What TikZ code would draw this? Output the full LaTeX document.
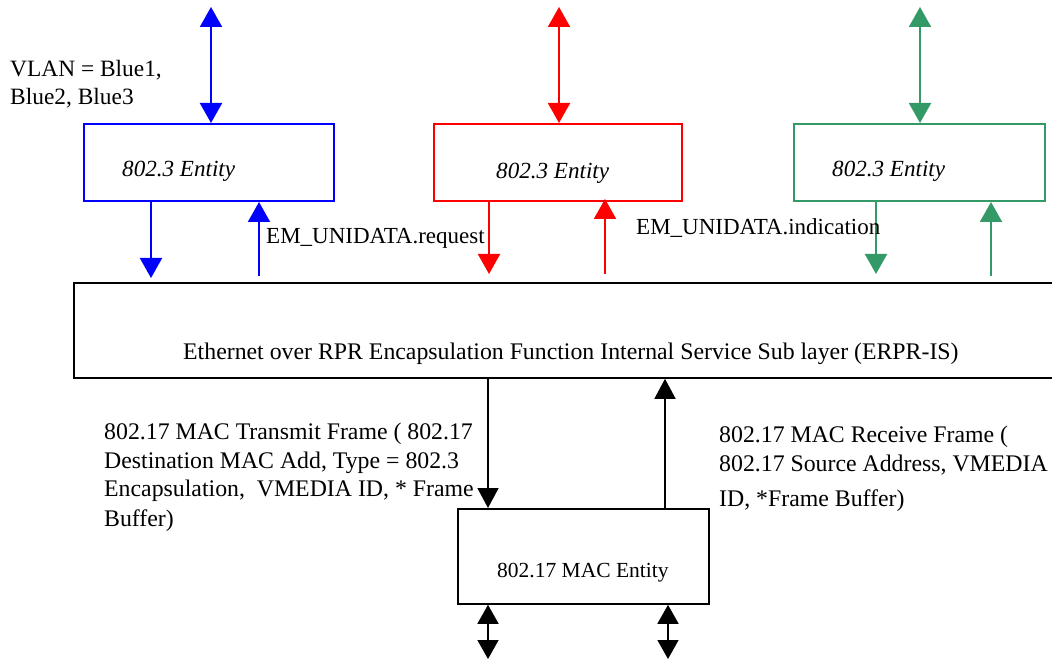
\documentclass[tikz,border=0pt]{standalone}
\usepackage{fontspec}
\setmainfont{Liberation Serif}
\usetikzlibrary{arrows.meta}
\definecolor{eblue}{RGB}{0,0,255}
\definecolor{ered}{RGB}{255,0,0}
\definecolor{egreen}{RGB}{51,153,102}
\begin{document}
\begin{tikzpicture}[x=1pt,y=-1pt,
  txt/.style={inner sep=0pt, font=\fontsize{#1}{28.5}\selectfont},
  txt/.default=23.8,
  etxt/.style={inner sep=0pt, anchor=base west, font=\fontsize{23.1}{28.5}\selectfont\itshape},
  ebox/.style={draw=#1, line width=2pt, inner sep=0pt, anchor=north west},
  cline/.style={draw=#1, line width=2pt, -{Triangle[length=20pt,width=22pt]}},
  cdbl/.style={draw=#1, line width=2pt, {Triangle[length=20pt,width=22pt]}-{Triangle[length=20pt,width=22pt]}},
  kline/.style={draw=black, line width=1.6pt, -{Triangle[length=20pt,width=21pt]}},
  kdbl/.style={draw=black, line width=1.6pt, {Triangle[length=19pt,width=21pt]}-{Triangle[length=19pt,width=21pt]}},
]
\useasboundingbox (0,0) rectangle (1052,660);
\clip (0,0) rectangle (1052,660);

% entity boxes
\node[ebox=eblue, minimum width=250pt, minimum height=77pt] (b1) at (83,123) {};
\node[ebox=ered, minimum width=248pt, minimum height=77pt] (b2) at (433,123) {};
\node[ebox=egreen, minimum width=251pt, minimum height=77pt] (b3) at (793,123) {};
\node[etxt] (b1t) at (122,177) {802.3 Entity};
\node[etxt] (b2t) at (496,179) {802.3 Entity};
\node[etxt] (b3t) at (832,177) {802.3 Entity};

% big service box (runs past the right edge)
\node[ebox=black, line width=1.8pt, minimum width=1010pt, minimum height=95pt] (erpr) at (73,282) {};
\node[txt, anchor=base west] (erprt) at (183,359) {Ethernet over RPR Encapsulation Function Internal Service Sub layer (ERPR-IS)};

% MAC box
\node[ebox=black, line width=1.8pt, minimum width=251pt, minimum height=95pt] (mac) at (457,508) {};
\node[txt=21.5, anchor=base west] (mact) at (497,577) {802.17 MAC Entity};

% top double arrows
\coordinate (t1) at (211,7);
\coordinate (t2) at (559,7);
\coordinate (t3) at (920,7);
\draw[cdbl=eblue] (t1) -- (b1.north -| t1);
\draw[cdbl=ered] (t2) -- (b2.north -| t2);
\draw[cdbl=egreen] (t3) -- (b3.north -| t3);

% entity <-> service arrows
\draw[cline=eblue, shorten >=4pt] (b1.south -| 151,0) -- (erpr.north -| 151,0);
\draw[cline=eblue, shorten <=6pt] (erpr.north -| 259,0) -- (b1.south -| 259,0);
\draw[cline=ered, shorten >=8pt] (b2.south -| 489,0) -- (erpr.north -| 489,0);
\draw[cline=ered, shorten <=8pt, shorten >=-3pt] (erpr.north -| 605,0) -- (b2.south -| 605,0);
\draw[cline=egreen, shorten >=8pt] (b3.south -| 876,0) -- (erpr.north -| 876,0);
\draw[cline=egreen, shorten <=6pt] (erpr.north -| 991,0) -- (b3.south -| 991,0);

% labels
\node[txt=23.4, anchor=north west, align=left] (vlan) at (10,60) {VLAN = Blue1,\\Blue2, Blue3};
\node[txt=23, anchor=base west] (req) at (266,244) {EM\_UNIDATA.request};
\node[txt=23, anchor=base west] (ind) at (636,235) {EM\_UNIDATA.indication};

% service <-> MAC arrows
\draw[kline] (erpr.south -| 488,0) -- (mac.north -| 488,0);
\draw[kline] (mac.north -| 665,0) -- (erpr.south -| 665,0);
\coordinate (m1) at (488,659);
\coordinate (m2) at (668,659);
\draw[kdbl] (mac.south -| m1) -- (m1);
\draw[kdbl] (mac.south -| m2) -- (m2);

\node[txt, anchor=north west, align=left] (tx) at (104,423) {802.17 MAC Transmit Frame ( 802.17\\Destination MAC Add, Type = 802.3\\Encapsulation,\ \ VMEDIA ID, * Frame\\[1.5pt]Buffer)};
\node[txt, anchor=north west, align=left] (rx) at (719,426) {802.17 MAC Receive Frame (\\802.17 Source Address, VMEDIA\\[7pt]ID, *Frame Buffer)};
\end{tikzpicture}
\end{document}
